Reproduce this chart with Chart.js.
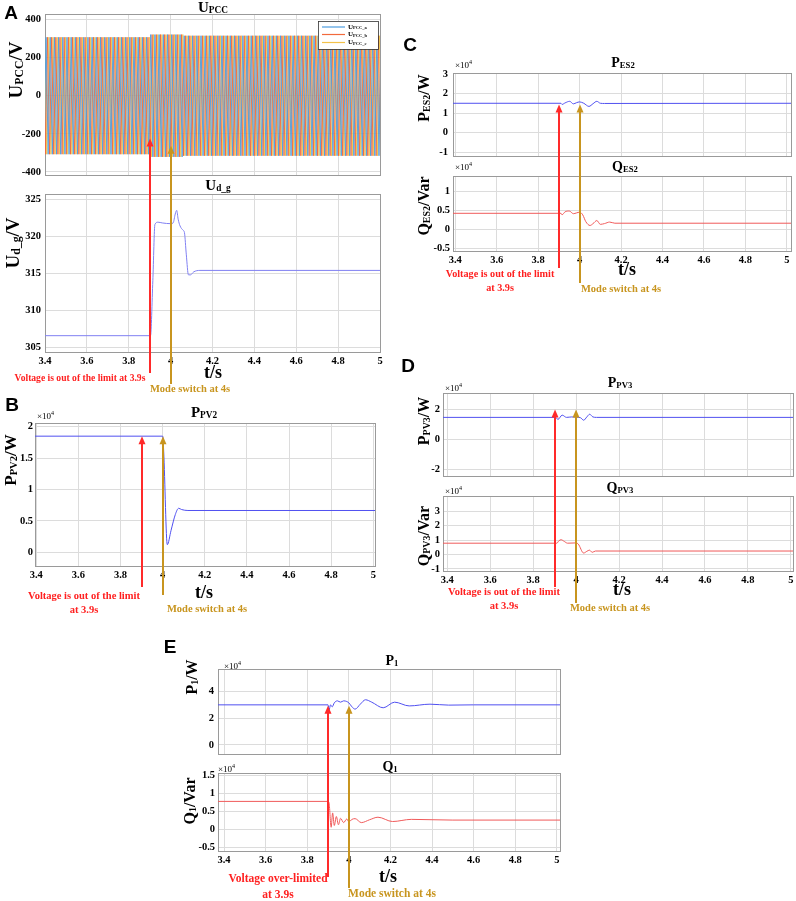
<!DOCTYPE html>
<html>
<head>
<meta charset="utf-8">
<script src="https://cdn.jsdelivr.net/npm/chart.js@4.4.1/dist/chart.umd.min.js"></script>
<style>
  body { margin: 0; background: #fff; }
  #page { position: relative; width: 796px; height: 901px; overflow: hidden; font-family: 'Liberation Serif', 'Times New Roman', serif; }
  canvas { position: absolute; }
  .lbl { position: absolute; white-space: nowrap; font-weight: bold; color: #000; transform: translate(-50%, -50%); z-index: 2; line-height: 1; }
  .lbl .s { font-size: 0.62em; vertical-align: -0.08em; }
  .ytl { position: absolute; white-space: nowrap; font-weight: bold; color: #000; transform: translate(-50%, -50%) rotate(-90deg); z-index: 2; line-height: 1; }
  .ytl .s { font-size: 0.62em; vertical-align: -0.08em; }
  .letter { position: absolute; font-family: 'Liberation Sans', Arial, sans-serif; font-weight: bold; font-size: 19px; transform: translate(-50%, -50%); z-index: 2; }
  .mult { position: absolute; font-size: 9px; transform: translateY(-50%); z-index: 2; white-space: nowrap; }
  .mult sup { font-size: 6px; vertical-align: 4px; }
  .ann { position: absolute; white-space: nowrap; font-weight: bold; transform: translate(-50%, -50%); z-index: 2; text-align: center; line-height: 1.35; }
  .red { color: #ff2020; }
  .gold { color: #c8951f; }
</style>
</head>
<body>
<div id="page">
  <div class="letter" style="left:11px;top:13px">A</div>
  <div class="letter" style="left:12px;top:405px">B</div>
  <div class="letter" style="left:410px;top:45px">C</div>
  <div class="letter" style="left:408px;top:366px">D</div>
  <div class="letter" style="left:170px;top:647px">E</div>

  <div class="lbl" style="left:213px;top:8px;font-size:15px">U<span class="s">PCC</span></div>
  <div class="lbl" style="left:218px;top:186px;font-size:15px">U<span class="s">d_g</span></div>
  <div class="lbl" style="left:204px;top:413px;font-size:15px">P<span class="s">PV2</span></div>
  <div class="lbl" style="left:623px;top:63px;font-size:14px">P<span class="s">ES2</span></div>
  <div class="lbl" style="left:625px;top:167px;font-size:14px">Q<span class="s">ES2</span></div>
  <div class="lbl" style="left:620px;top:383px;font-size:14px">P<span class="s">PV3</span></div>
  <div class="lbl" style="left:620px;top:488px;font-size:14px">Q<span class="s">PV3</span></div>
  <div class="lbl" style="left:392px;top:661px;font-size:14px">P<span class="s">1</span></div>
  <div class="lbl" style="left:390px;top:767px;font-size:14px">Q<span class="s">1</span></div>

  <div class="ytl" style="left:16px;top:70px;font-size:19px">U<span class="s">PCC</span>/V</div>
  <div class="ytl" style="left:13px;top:243px;font-size:19px">U<span class="s">d_g</span>/V</div>
  <div class="ytl" style="left:11px;top:460px;font-size:17px">P<span class="s">PV2</span>/W</div>
  <div class="ytl" style="left:424px;top:98px;font-size:16px">P<span class="s">ES2</span>/W</div>
  <div class="ytl" style="left:424px;top:206px;font-size:16px">Q<span class="s">ES2</span>/Var</div>
  <div class="ytl" style="left:424px;top:421px;font-size:16px">P<span class="s">PV3</span>/W</div>
  <div class="ytl" style="left:424px;top:536px;font-size:16px">Q<span class="s">PV3</span>/Var</div>
  <div class="ytl" style="left:192px;top:677px;font-size:16px">P<span class="s">1</span>/W</div>
  <div class="ytl" style="left:190px;top:801px;font-size:16px">Q<span class="s">1</span>/Var</div>

  <div class="mult" style="left:37px;top:415px">×10<sup>4</sup></div>
  <div class="mult" style="left:455px;top:64px">×10<sup>4</sup></div>
  <div class="mult" style="left:455px;top:166px">×10<sup>4</sup></div>
  <div class="mult" style="left:445px;top:387px">×10<sup>4</sup></div>
  <div class="mult" style="left:445px;top:490px">×10<sup>4</sup></div>
  <div class="mult" style="left:224px;top:665px">×10<sup>4</sup></div>
  <div class="mult" style="left:218px;top:768px">×10<sup>4</sup></div>

  <div class="lbl" style="left:213px;top:372px;font-size:18px">t/s</div>
  <div class="lbl" style="left:204px;top:592px;font-size:18px">t/s</div>
  <div class="lbl" style="left:627px;top:269px;font-size:18px">t/s</div>
  <div class="lbl" style="left:622px;top:589px;font-size:18px">t/s</div>
  <div class="lbl" style="left:388px;top:876px;font-size:18px">t/s</div>

  <div class="ann red" style="left:80px;top:378px;font-size:9.6px">Voltage is out of the limit at 3.9s</div>
  <div class="ann gold" style="left:190px;top:389px;font-size:10.5px">Mode switch at 4s</div>
  <div class="ann red" style="left:84px;top:603px;font-size:10.5px">Voltage is out of the limit<br>at 3.9s</div>
  <div class="ann gold" style="left:207px;top:609px;font-size:10.5px">Mode switch at 4s</div>
  <div class="ann red" style="left:500px;top:281px;font-size:10.2px">Voltage is out of the limit<br>at 3.9s</div>
  <div class="ann gold" style="left:621px;top:289px;font-size:10.5px">Mode switch at 4s</div>
  <div class="ann red" style="left:504px;top:599px;font-size:10.5px">Voltage is out of the limit<br>at 3.9s</div>
  <div class="ann gold" style="left:610px;top:608px;font-size:10.5px">Mode switch at 4s</div>
  <div class="ann red" style="left:278px;top:887px;font-size:11.5px">Voltage over-limited<br>at 3.9s</div>
  <div class="ann gold" style="left:392px;top:894px;font-size:11.5px">Mode switch at 4s</div>
</div>
<script>
// ---- x axis (time, s) ----
var xTickVals = [3.4, 3.6, 3.8, 4.0, 4.2, 4.4, 4.6, 4.8, 5.0];
var xTickLabels = ['3.4', '3.6', '3.8', '4', '4.2', '4.4', '4.6', '4.8', '5'];

// ---- A: U_PCC three phase voltage ----
var upccLabels = ['UPCC_a', 'UPCC_b', 'UPCC_c'];
var upccColors = ['#4d9de0', '#f26a3c', '#f3c24a'];
var upccFreq = 50;                      // Hz
var upccPhaseDeg = [0, -120, 120];
var upccSegStart = [3.4, 3.9, 4.06];    // s, start of each amplitude level
var upccSegAmp = [307, 321, 315];       // V, peak of each level
var upccTicks = [-400, -200, 0, 200, 400];

// ---- A: U_d_g ----
var udgT = [3.35, 3.904, 3.915, 3.925, 3.94, 3.96, 4.0, 4.012, 4.022, 4.029, 4.036, 4.045, 4.06, 4.066, 4.075, 4.085, 4.095, 4.11, 4.14, 5.05];
var udgV = [306.6, 306.6, 314.0, 321.6, 321.9, 321.8, 321.7, 321.8, 323.0, 323.5, 322.3, 321.4, 320.8, 320.5, 317.5, 314.8, 314.8, 315.2, 315.4, 315.4];
var udgTicks = [305, 310, 315, 320, 325];

// ---- B: P_PV2 (x10^4 W) ----
var ppv2T = [3.35, 4.0, 4.005, 4.022, 4.04, 4.06, 4.076, 4.09, 4.12, 5.05];
var ppv2V = [1.85, 1.85, 1.6, 0.12, 0.35, 0.6, 0.70, 0.68, 0.665, 0.665];
var ppv2Ticks = [0, 0.5, 1, 1.5, 2];
var ppv2TickLabels = ['0', '0.5', '1', '1.5', '2'];

// ---- C: P_ES2, Q_ES2 (x10^4) ----
var pes2T = [3.35, 3.91, 3.915, 3.93, 3.952, 3.97, 3.985, 4.0, 4.02, 4.045, 4.065, 4.083, 4.1, 4.12, 5.05];
var pes2V = [1.5, 1.5, 1.44, 1.52, 1.6, 1.47, 1.53, 1.57, 1.5, 1.34, 1.48, 1.6, 1.5, 1.49, 1.5];
var pes2Ticks = [-1, 0, 1, 2, 3];
var qes2T = [3.35, 3.91, 3.915, 3.93, 3.95, 3.97, 3.985, 4.0, 4.015, 4.03, 4.05, 4.065, 4.083, 4.1, 4.12, 4.145, 4.17, 5.05];
var qes2V = [0.42, 0.42, 0.38, 0.46, 0.48, 0.41, 0.43, 0.45, 0.38, 0.2, 0.1, 0.15, 0.23, 0.13, 0.15, 0.19, 0.16, 0.16];
var qes2Ticks = [-0.5, 0, 0.5, 1];
var qes2TickLabels = ['-0.5', '0', '0.5', '1'];

// ---- D: P_PV3, Q_PV3 (x10^4) ----
var ppv3T = [3.35, 3.905, 3.915, 3.935, 3.955, 3.98, 4.0, 4.02, 4.035, 4.05, 4.063, 4.078, 4.095, 5.05];
var ppv3V = [1.47, 1.47, 1.33, 1.62, 1.47, 1.5, 1.48, 1.45, 1.28, 1.5, 1.68, 1.5, 1.47, 1.47];
var ppv3Ticks = [-2, 0, 2];
var qpv3T = [3.35, 3.91, 3.92, 3.93, 3.945, 3.96, 4.0, 4.01, 4.035, 4.05, 4.062, 4.075, 4.09, 5.05];
var qpv3V = [0.78, 0.78, 0.95, 1.02, 0.9, 0.78, 0.8, 0.72, 0.1, 0.22, 0.3, 0.15, 0.24, 0.24];
var qpv3Ticks = [-1, 0, 1, 2, 3];

// ---- E: P_1, Q_1 (x10^4) ----
var p1T = [3.35, 3.9, 3.905, 3.912, 3.92, 3.93, 3.945, 3.96, 3.975, 3.99, 4.0, 4.015, 4.03, 4.055, 4.08, 4.11, 4.165, 4.22, 4.29, 4.39, 4.48, 4.6, 5.05];
var p1V = [3.0, 3.0, 2.62, 3.0, 2.85, 3.15, 3.3, 3.2, 3.3, 3.25, 3.15, 2.85, 2.68, 3.05, 3.38, 3.2, 2.78, 3.2, 2.92, 3.05, 2.98, 3.0, 3.0];
var p1Ticks = [0, 2, 4];
var q1T = [3.35, 3.9, 3.905, 3.915, 3.922, 3.93, 3.94, 3.95, 3.96, 3.975, 3.99, 4.0, 4.015, 4.03, 4.06, 4.1, 4.14, 4.21, 4.3, 4.4, 4.5, 5.05];
var q1V = [0.77, 0.77, 0.72, 0.05, 0.45, 0.1, 0.35, 0.12, 0.3, 0.18, 0.28, 0.2, 0.27, 0.29, 0.18, 0.26, 0.33, 0.21, 0.27, 0.26, 0.25, 0.25];
var q1Ticks = [-0.5, 0, 0.5, 1, 1.5];
var q1TickLabels = ['-0.5', '0', '0.5', '1', '1.5'];

var RED = '#ff2a2a', GOLD = '#c8951f', PBLUE = '#5050f0', QRED = '#f05a5a';
var tickFont = { family: "'Liberation Serif', 'Times New Roman', serif", weight: 'bold', size: 10.5 };

// build the three phase points (peaks of each half cycle)
function upccPoints(ph) {
  var pts = [];
  for (var k = 0; k < 520; k++) {
    var t = (0.25 + k / 2 - upccPhaseDeg[ph] / 360) / upccFreq;
    t = Math.round(t * 100000) / 100000;
    if (t < 3.39 || t > 5.01) continue;
    var amp = upccSegAmp[0];
    for (var s = 0; s < upccSegStart.length; s++) { if (t >= upccSegStart[s]) amp = upccSegAmp[s]; }
    pts.push({ x: t, y: (k % 2 === 0 ? amp : -amp) });
  }
  return pts;
}
function xy(ts, vs) { return ts.map(function (t, i) { return { x: t, y: vs[i] }; }); }

var framePlugin = {
  id: 'frame',
  beforeDatasetsDraw: function (chart) {
    var a = chart.chartArea, c = chart.ctx;
    c.save();
    c.strokeStyle = '#9a9a9a'; c.lineWidth = 1;
    c.strokeRect(Math.round(a.left) + 0.5, Math.round(a.top) + 0.5, Math.round(a.right - a.left), Math.round(a.bottom - a.top));
    c.restore();
  }
};

var arrowPlugin = {
  id: 'arrows',
  afterDatasetsDraw: function (chart, args, opts) {
    var items = opts.items || [];
    var c = chart.ctx;
    for (var i = 0; i < items.length; i++) {
      var a = items[i];
      var x = Math.round(chart.scales.x.getPixelForValue(a.x));
      var hasHead = a.head !== null && a.head !== undefined;
      var y0 = hasHead ? chart.scales.y.getPixelForValue(a.head) : 0;
      var y1 = (a.tail !== null && a.tail !== undefined) ? a.tail : chart.height;
      c.save();
      c.strokeStyle = a.color; c.fillStyle = a.color; c.lineWidth = 2;
      c.beginPath(); c.moveTo(x, hasHead ? y0 + 6 : y0); c.lineTo(x, y1); c.stroke();
      if (hasHead) {
        c.beginPath(); c.moveTo(x, y0); c.lineTo(x - 3.5, y0 + 8); c.lineTo(x + 3.5, y0 + 8); c.closePath(); c.fill();
      }
      c.restore();
    }
  }
};

var legendBoxPlugin = {
  id: 'legendBox',
  afterDatasetsDraw: function (chart, args, opts) {
    if (!opts.show) return;
    var a = chart.chartArea, c = chart.ctx;
    var w = 60, h = 28, x0 = a.right - 2 - w, y0 = a.top + 7;
    c.save();
    c.fillStyle = '#fff'; c.fillRect(x0, y0, w, h);
    c.strokeStyle = '#333'; c.lineWidth = 0.8; c.strokeRect(x0 + 0.5, y0 + 0.5, w, h);
    var rows = [6, 13.5, 21.5];
    chart.data.datasets.forEach(function (ds, i) {
      var y = y0 + rows[i];
      c.strokeStyle = ds.borderColor; c.lineWidth = 1.2;
      c.beginPath(); c.moveTo(x0 + 4, y); c.lineTo(x0 + 27, y); c.stroke();
      var parts = ds.label.split('PCC');
      c.fillStyle = '#000'; c.textBaseline = 'middle';
      c.font = "bold 7px 'Liberation Serif', serif";
      c.fillText(parts[0], x0 + 30, y);
      var uw = c.measureText(parts[0]).width;
      c.font = "bold 4.5px 'Liberation Serif', serif";
      c.fillText('PCC' + parts[1], x0 + 30 + uw, y + 1);
    });
    c.restore();
  }
};

function zeroPad(s) { s.paddingLeft = 0; s.paddingRight = 0; s.paddingTop = 0; s.paddingBottom = 0; }

function makePlot(spec) {
  var page = document.getElementById('page');
  var cv = document.createElement('canvas');
  var w = spec.box[2] - spec.box[0], h = spec.box[3] - spec.box[1];
  cv.width = w; cv.height = h;
  cv.style.left = spec.box[0] + 'px'; cv.style.top = spec.box[1] + 'px';
  cv.style.width = w + 'px'; cv.style.height = h + 'px';
  page.insertBefore(cv, page.firstChild);
  var yW = spec.area[0] - spec.box[0];
  var xH = spec.xLabels ? 20 : 0;
  var arrows = (spec.arrows || []).map(function (a) {
    return { x: a.x, color: a.color, head: a.head, tail: (a.tail !== undefined && a.tail !== null) ? a.tail - spec.box[1] : null };
  });
  return new Chart(cv, {
    type: 'line',
    data: { datasets: spec.datasets },
    options: {
      responsive: false,
      animation: false,
      events: [],
      layout: { padding: { left: 0, right: spec.box[2] - spec.area[2], top: spec.area[1] - spec.box[1], bottom: spec.box[3] - spec.area[3] - xH } },
      elements: { point: { radius: 0 }, line: { borderWidth: 1 } },
      scales: {
        x: {
          type: 'linear', min: spec.xMin, max: spec.xMax,
          border: { display: false },
          grid: { color: '#dcdcdc', drawTicks: false },
          ticks: { display: !!spec.xLabels, padding: 3, color: '#000', font: tickFont, maxRotation: 0,
                   callback: function (v, i) { return xTickLabels[i]; } },
          afterBuildTicks: function (s) { s.ticks = xTickVals.map(function (v) { return { value: v }; }); },
          afterFit: function (s) { s.height = xH; zeroPad(s); }
        },
        y: {
          type: 'linear', min: spec.yMin, max: spec.yMax,
          border: { display: false },
          grid: { color: '#dcdcdc', drawTicks: false },
          ticks: { padding: spec.yPad || 3, color: '#000', font: tickFont,
                   callback: function (v, i) { return spec.yLabels ? spec.yLabels[i] : String(spec.yTicks[i]); } },
          afterBuildTicks: function (s) { s.ticks = spec.yTicks.map(function (v) { return { value: v }; }); },
          afterFit: function (s) { s.width = yW; zeroPad(s); }
        }
      },
      plugins: {
        legend: { display: false },
        tooltip: { enabled: false },
        arrows: { items: arrows },
        legendBox: { show: !!spec.legend }
      }
    },
    plugins: [framePlugin, arrowPlugin, legendBoxPlugin]
  });
}

function line(ts, vs, color) {
  return { data: xy(ts, vs), borderColor: color, borderWidth: 1, pointRadius: 0, cubicInterpolationMode: 'monotone', fill: false };
}

// ===== A =====
makePlot({
  box: [0, 0, 390, 185], area: [45, 14, 380, 175], xMin: 3.4, xMax: 5.0,
  yMin: -416, yMax: 429, yTicks: upccTicks, legend: true, yPad: 4,
  datasets: upccLabels.map(function (lb, i) {
    return { label: lb, data: upccPoints(i), borderColor: upccColors[i], borderWidth: 0.9, pointRadius: 0, tension: 0 };
  }),
  arrows: [{ x: 3.9, color: RED, head: -225 }, { x: 4.0, color: GOLD, head: -262 }]
});
makePlot({
  box: [0, 185, 390, 400], area: [45, 194, 380, 352], xMin: 3.4, xMax: 5.0,
  yMin: 304.4, yMax: 325.7, yTicks: udgTicks, xLabels: true, yPad: 4,
  datasets: [line(udgT, udgV, '#8080f2')],
  arrows: [{ x: 3.9, color: RED, head: null, tail: 373 }, { x: 4.0, color: GOLD, head: null, tail: 384 }]
});

// ===== B =====
makePlot({
  box: [0, 400, 390, 625], area: [35, 423, 375, 566], xMin: 3.394, xMax: 5.008,
  yMin: -0.22, yMax: 2.06, yTicks: ppv2Ticks, yLabels: ppv2TickLabels, xLabels: true, yPad: 2,
  datasets: [line(ppv2T, ppv2V, PBLUE)],
  arrows: [{ x: 3.9, color: RED, head: 1.85, tail: 587 }, { x: 4.0, color: GOLD, head: 1.85, tail: 595 }]
});

// ===== C =====
makePlot({
  box: [400, 40, 796, 166], area: [453, 73, 791, 156], xMin: 3.389, xMax: 5.02,
  yMin: -1.2, yMax: 3.05, yTicks: pes2Ticks, yPad: 5,
  datasets: [line(pes2T, pes2V, PBLUE)],
  arrows: [{ x: 3.9, color: RED, head: 1.44 }, { x: 4.0, color: GOLD, head: 1.44 }]
});
makePlot({
  box: [400, 166, 796, 300], area: [453, 176, 791, 251], xMin: 3.389, xMax: 5.02,
  yMin: -0.57, yMax: 1.4, yTicks: qes2Ticks, yLabels: qes2TickLabels, xLabels: true, yPad: 3,
  datasets: [line(qes2T, qes2V, QRED)],
  arrows: [{ x: 3.9, color: RED, head: null, tail: 268 }, { x: 4.0, color: GOLD, head: null, tail: 283 }]
});

// ===== D =====
makePlot({
  box: [400, 378, 796, 486], area: [443, 393, 793, 476], xMin: 3.38, xMax: 5.01,
  yMin: -2.45, yMax: 3.1, yTicks: ppv3Ticks, yPad: 3,
  datasets: [line(ppv3T, ppv3V, PBLUE)],
  arrows: [{ x: 3.9, color: RED, head: 2.0 }, { x: 4.0, color: GOLD, head: 2.0 }]
});
makePlot({
  box: [400, 486, 796, 625], area: [443, 496, 793, 571], xMin: 3.38, xMax: 5.01,
  yMin: -1.14, yMax: 4.04, yTicks: qpv3Ticks, xLabels: true, yPad: 3,
  datasets: [line(qpv3T, qpv3V, QRED)],
  arrows: [{ x: 3.9, color: RED, head: null, tail: 587 }, { x: 4.0, color: GOLD, head: null, tail: 603 }]
});

// ===== E =====
makePlot({
  box: [160, 640, 590, 763], area: [218, 669, 560, 754], xMin: 3.371, xMax: 5.015,
  yMin: -0.675, yMax: 5.68, yTicks: p1Ticks, yPad: 4,
  datasets: [line(p1T, p1V, PBLUE)],
  arrows: [{ x: 3.9, color: RED, head: 2.93 }, { x: 4.0, color: GOLD, head: 2.93 }]
});
makePlot({
  box: [160, 763, 590, 901], area: [218, 773, 560, 851], xMin: 3.371, xMax: 5.015,
  yMin: -0.61, yMax: 1.56, yTicks: q1Ticks, yLabels: q1TickLabels, xLabels: true, yPad: 3,
  datasets: [line(q1T, q1V, QRED)],
  arrows: [{ x: 3.9, color: RED, head: null, tail: 877 }, { x: 4.0, color: GOLD, head: null, tail: 888 }]
});
</script>
</body>
</html>
